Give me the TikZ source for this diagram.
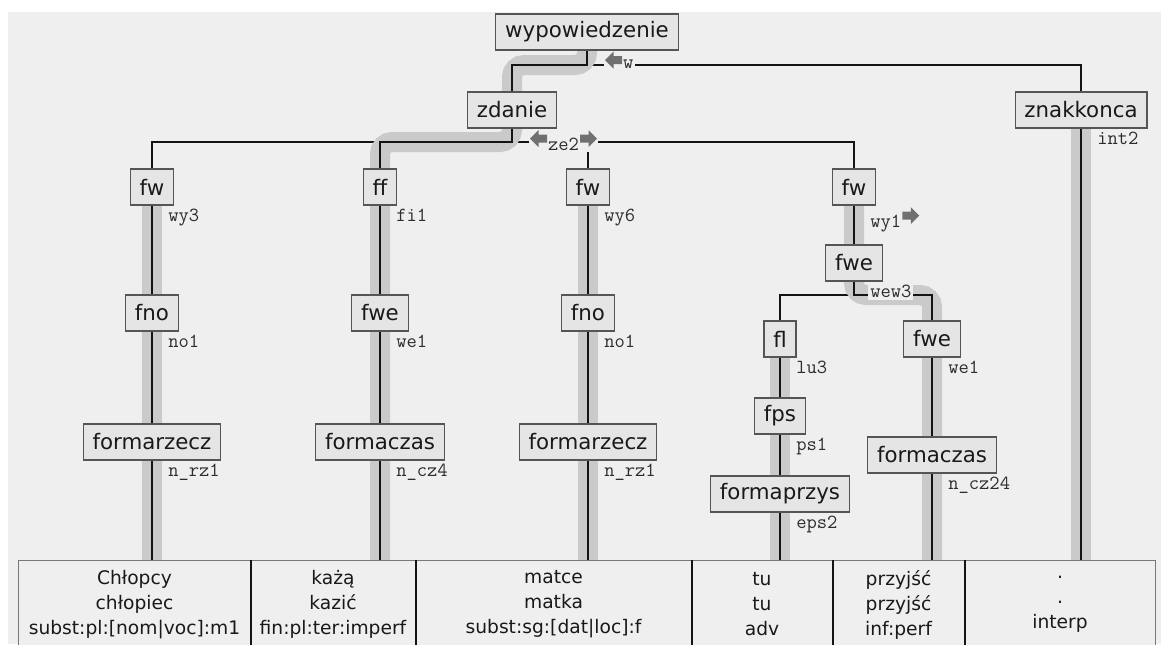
\documentclass[tikz,border=0pt]{standalone}
\usepackage{fontspec}
\setmainfont{DejaVu Sans}
\usetikzlibrary{calc}

\pgfdeclarelayer{bgl}
\pgfdeclarelayer{thin}
\pgfdeclarelayer{band}
\pgfdeclarelayer{head}
\pgfsetlayers{bgl,thin,band,head,main}

\begin{document}
\begin{tikzpicture}[x=0.75pt,y=0.75pt,yscale=-1,xscale=1,
	box/.style={draw={rgb, 255:red, 85; green, 85; blue, 85}, line width=0.9pt, fill={rgb, 255:red, 229; green, 229; blue, 229}, text={rgb, 255:red, 25; green, 25; blue, 25}, inner xsep=7pt, inner ysep=0pt, minimum height=27pt, font=\fontsize{16pt}{19pt}\selectfont},
	cell/.style={draw={rgb, 255:red, 120; green, 120; blue, 120}, line width=0.75pt, fill={rgb, 255:red, 239; green, 239; blue, 239}, anchor=north west, minimum height=66pt, inner sep=0pt, align=center, text={rgb, 255:red, 25; green, 25; blue, 25}, font=\fontsize{14pt}{18.75pt}\selectfont},
	lbl/.style={anchor=north west, inner sep=1.5pt, fill={rgb, 255:red, 239; green, 239; blue, 239}, text={rgb, 255:red, 45; green, 45; blue, 45}, font=\ttfamily\fontsize{15pt}{17pt}\selectfont},
	link/.style={draw={rgb, 255:red, 20; green, 20; blue, 20}, line width=1.2pt},
	band/.style={draw={rgb, 255:red, 202; green, 202; blue, 202}, line width=15pt, rounded corners=9pt},
	divider/.style={draw={rgb, 255:red, 20; green, 20; blue, 20}, line width=1.1pt},
	larr/.pic={\fill[fill={rgb, 255:red, 112; green, 112; blue, 112}] (-8.5,0) -- (0,-8.5) -- (0,-4) -- (8.5,-4) -- (8.5,4) -- (0,4) -- (0,8.5) -- cycle;},
	rarr/.pic={\fill[fill={rgb, 255:red, 112; green, 112; blue, 112}] (8.5,0) -- (0,-8.5) -- (0,-4) -- (-8.5,-4) -- (-8.5,4) -- (0,4) -- (0,8.5) -- cycle;}
	]
	\useasboundingbox (0,0) rectangle (1161,644);
	%Shape: Rectangle
	\begin{pgfonlayer}{bgl}
		\fill[fill={rgb, 255:red, 239; green, 239; blue, 239}] (8,12) rectangle (1161,644);
	\end{pgfonlayer}

	% Tree nodes
	\node[box] (wyp) at (587,32) {wypowiedzenie};
	\node[box] (zd) at (512,110) {zdanie};
	\node[box] (zk) at (1081,110) {znakkonca};
	\node[box] (fw1) at (152,187) {fw};
	\node[box] (ff) at (380,187) {ff};
	\node[box] (fw3) at (588,187) {fw};
	\node[box] (fw4) at (854,187) {fw};
	\node[box] (fwe4) at (854,263) {fwe};
	\node[box] (fno1) at (152,313) {fno};
	\node[box] (fwe1) at (380,313) {fwe};
	\node[box] (fno3) at (588,313) {fno};
	\node[box] (fl) at (780,339) {fl};
	\node[box] (fwe5) at (932,339) {fwe};
	\node[box] (fps) at (780,416) {fps};
	\node[box] (fr1) at (152,442) {formarzecz};
	\node[box] (fc1) at (380,442) {formaczas};
	\node[box] (fr3) at (588,442) {formarzecz};
	\node[box] (fc5) at (932,455) {formaczas};
	\node[box] (fp) at (780,494) {formaprzys};

	% Words
	\node[cell, minimum width=174pt] (word1) at (18,560) {Chłopcy\\chłopiec\\subst:pl:[nom|voc]:m1};
	\node[cell, minimum width=123.75pt] (word2) at (250,560) {każą\\kazić\\fin:pl:ter:imperf};
	\node[cell, minimum width=207pt] (word3) at (415,560) {matce\\matka\\subst:sg:[dat|loc]:f};
	\node[cell, minimum width=105.75pt] (word4) at (691,560) {tu\\tu\\adv};
	\node[cell, minimum width=99pt] (word5) at (832,560) {przyjść\\przyjść\\inf:perf};
	\node[cell, minimum width=143.25pt] (word6) at (964,560) {.\\.\\interp};
	\foreach \w in {1,...,5}
		\draw[divider] (word\w.north east) -- (word\w.south east);

	\coordinate (j1) at (587,65);
	\coordinate (j2) at (512,142);
	\coordinate (j3) at (854,295);

	%Straight Lines
	\begin{pgfonlayer}{thin}
		\draw[link] (j1) -| (zk);
		\draw[link] (j2) -| (fw1);
		\draw[link] (j2) -| (fw3);
		\draw[link] (j2) -| (fw4);
		\draw[link] (j3) -| (fl);
	\end{pgfonlayer}
	\begin{pgfonlayer}{band}
		\draw[band] (wyp) -- (j1) -| (zd);
		\draw[band] (zd) -- (j2) -| (ff |- word2.north);
		\draw[band] (fw1) -- (fw1 |- word1.north);
		\draw[band] (fw3) -- (fw3 |- word3.north);
		\draw[band] (fw4) -- (j3) -| (fwe5 |- word5.north);
		\draw[band] (fl) -- (fl |- word4.north);
		\draw[band] (zk) -- (zk |- word6.north);
	\end{pgfonlayer}
	\begin{pgfonlayer}{head}
		\draw[link] (wyp) -- (j1) -| (zd);
		\draw[link] (zd) -- (j2) -| (ff);
		\draw[link] (ff) -- (fwe1) -- (fc1) -- (fc1 |- word2.north);
		\draw[link] (fw1) -- (fno1) -- (fr1) -- (fr1 |- word1.north);
		\draw[link] (fw3) -- (fno3) -- (fr3) -- (fr3 |- word3.north);
		\draw[link] (fw4) -- (fwe4) -- (j3) -| (fwe5);
		\draw[link] (fwe5) -- (fc5) -- (fc5 |- word5.north);
		\draw[link] (fl) -- (fps) -- (fp) -- (fp |- word4.north);
		\draw[link] (zk) -- (zk |- word6.north);
	\end{pgfonlayer}

	% Text Node
	\node[lbl] (lw) at ($(wyp.south)+(16.5,7)$) {\hspace*{13pt}w};
	\pic at ($(lw.north west)+(10,2.5)$) {larr};
	\node[lbl] (lze2) at ($(zd.south)+(16.5,7)$) {\hspace*{13pt}ze2\hspace*{13pt}};
	\pic at ($(lze2.north west)+(10,3)$) {larr};
	\pic at ($(lze2.north east)+(-10,3)$) {rarr};
	\node[lbl] (lwy1) at ($(fw4.south)+(14,7)$) {wy1\hspace*{13pt}};
	\pic at ($(lwy1.north east)+(-10,3)$) {rarr};
	\node[lbl] (lint2) at ($(zk.south)+(14,1)$) {int2};
	\node[lbl] (lwy3) at ($(fw1.south)+(14,1)$) {wy3};
	\node[lbl] (lfi1) at ($(ff.south)+(14,1)$) {fi1};
	\node[lbl] (lwy6) at ($(fw3.south)+(14,1)$) {wy6};
	\node[lbl] (lwew3) at ($(fwe4.south)+(14,1)$) {wew3};
	\node[lbl] (lno1) at ($(fno1.south)+(14,1)$) {no1};
	\node[lbl] (lwe1) at ($(fwe1.south)+(14,1)$) {we1};
	\node[lbl] (lno3) at ($(fno3.south)+(14,1)$) {no1};
	\node[lbl] (llu3) at ($(fl.south)+(14,1)$) {lu3};
	\node[lbl] (lwe5) at ($(fwe5.south)+(14,1)$) {we1};
	\node[lbl] (lps1) at ($(fps.south)+(14,1)$) {ps1};
	\node[lbl] (lrz1) at ($(fr1.south)+(14,1)$) {n\_rz1};
	\node[lbl] (lcz4) at ($(fc1.south)+(14,1)$) {n\_cz4};
	\node[lbl] (lrz3) at ($(fr3.south)+(14,1)$) {n\_rz1};
	\node[lbl] (lcz24) at ($(fc5.south)+(14,1)$) {n\_cz24};
	\node[lbl] (leps2) at ($(fp.south)+(14,1)$) {eps2};

\end{tikzpicture}
\end{document}
